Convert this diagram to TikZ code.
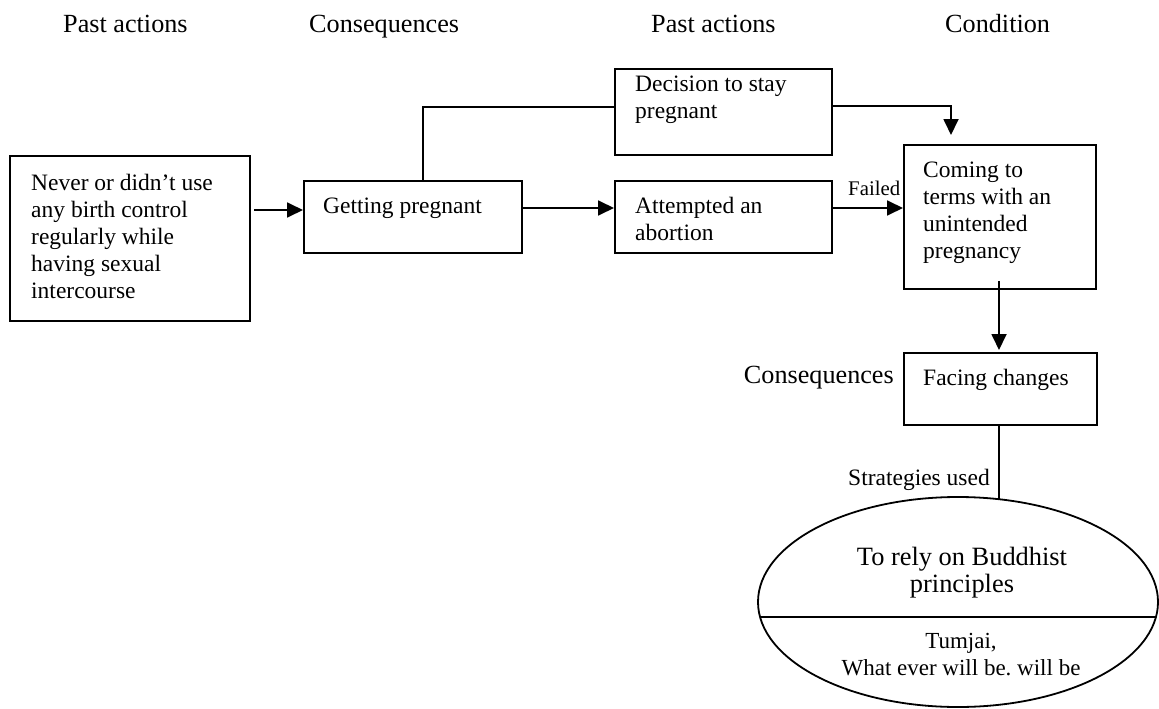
\documentclass[tikz,border=0pt]{standalone}
\usepackage{fontspec}
\setmainfont{Liberation Serif}
\usetikzlibrary{arrows.meta,shapes.geometric}
\frenchspacing

\tikzset{
  % plain boxes, placed by their top-left corner
  stepbox/.style={draw, line width=1.8pt, rectangle, inner sep=0pt, anchor=north west},
  % texts inside boxes and at connectors (base anchor = last line)
  boxtext/.style={inner sep=0pt, align=left, font=\fontsize{23.5}{27}\selectfont},
  headtext/.style={inner sep=0pt, anchor=base west, font=\fontsize{26.2}{30}\selectfont},
  smalltext/.style={inner sep=0pt, font=\fontsize{20.8}{24}\selectfont},
  conn/.style={line width=1.8pt},
  arr/.style={conn, -{Triangle[length=16pt,width=15pt]}},
}

\begin{document}
\begin{tikzpicture}[x=1pt, y=-1pt]
\useasboundingbox (0,0) rectangle (1159,709);

% column headings
\node[headtext] (h1) at (63,33) {Past actions};
\node[headtext] (h2) at (309,33) {Consequences};
\node[headtext] (h3) at (651,33) {Past actions};
\node[headtext] (h4) at (945,33) {Condition};

% boxes
\node[stepbox, minimum width=240pt, minimum height=165pt] (b1) at (9,155) {};
\node[stepbox, minimum width=218pt, minimum height=72pt]  (b2) at (303,180) {};
\node[stepbox, minimum width=217pt, minimum height=86pt]  (b3) at (614,68) {};
\node[stepbox, minimum width=217pt, minimum height=72pt]  (b4) at (614,180) {};
\node[stepbox, minimum width=192pt, minimum height=144pt] (b5) at (903,144) {};
\node[stepbox, minimum width=193pt, minimum height=72pt]  (b6) at (903,352) {};

% texts of the boxes
\node[boxtext, anchor=base west] (t1) at (31,298)
  {Never or didn’t use\\any birth control\\regularly while\\having sexual\\intercourse};
\node[boxtext, anchor=base west] (t2) at (323,213) {Getting pregnant};
\node[boxtext, anchor=base west] (t3) at (635,118) {Decision to stay\\pregnant};
\node[boxtext, anchor=base west] (t4) at (635,240) {Attempted an\\abortion};
\node[boxtext, anchor=base west] (t5) at (923,258)
  {Coming to\\terms with an\\unintended\\pregnancy};
\node[boxtext, anchor=base west] (t6) at (923,385) {Facing changes};

% side labels
\node[headtext, anchor=base east] (c2) at (894,383) {Consequences};
\node[boxtext, anchor=base east] (su) at (990,485) {Strategies used};
\node[smalltext, anchor=base west] (fl) at (848,195) {Failed};

% strategy ellipse, split by a horizontal rule
\node[draw, line width=1.8pt, ellipse, inner sep=0pt,
      minimum width=400pt, minimum height=210pt,
      path picture={\draw[line width=1.8pt]
        ([yshift=-15pt]path picture bounding box.west) --
        ([yshift=-15pt]path picture bounding box.east);}]
  (el) at (958,602) {};
\node[inner sep=0pt, align=center, anchor=base, font=\fontsize{26.4}{27}\selectfont]
  (e1) at (962,592) {To rely on Buddhist\\principles};
\node[inner sep=0pt, align=center, anchor=base, font=\fontsize{23}{27}\selectfont]
  (e2) at (961,675) {Tumjai,\\What ever will be. will be};

% connectors
\coordinate (a1) at (254,210);
\draw[arr] (a1) -- (a1 -| b2.west);
\draw[conn] (b2.north -| 423,0) |- (b3.west |- 0,107);
\draw[arr, shorten >=9pt] (b3.east |- 0,106) -| (b5.north -| 951,0);
\draw[arr] (b2.east |- 0,208) -- (b4.west |- 0,208);
\draw[arr] (b4.east |- 0,208) -- (b5.west |- 0,208);
\draw[arr, shorten <=-9pt, shorten >=2pt] (b5.south -| 999,0) -- (b6.north -| 999,0);
\coordinate (eltop) at (999,499);
\draw[conn] (b6.south -| 999,0) -- (eltop);
\end{tikzpicture}
\end{document}
